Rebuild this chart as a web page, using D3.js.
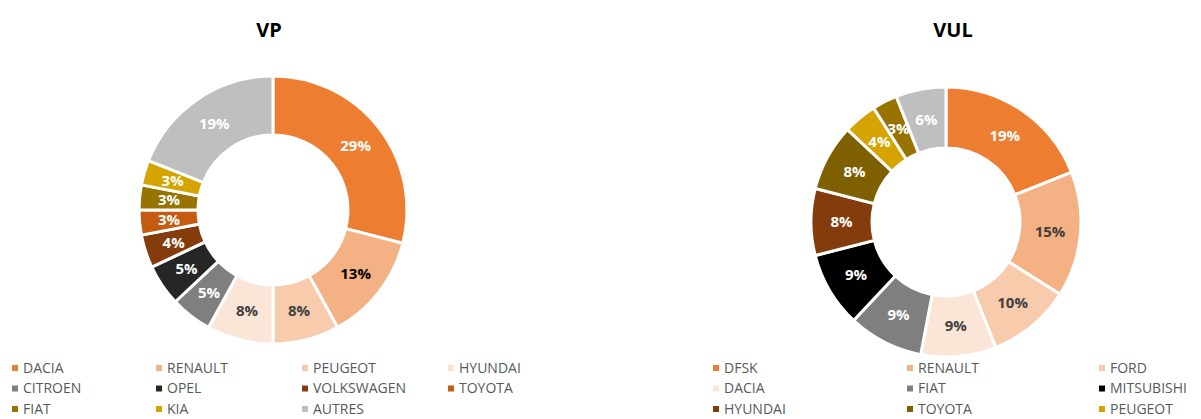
<!DOCTYPE html>
<html>
<head>
<meta charset="utf-8">
<script src="https://cdn.jsdelivr.net/npm/d3@7"></script>
<style>
  body { margin: 0; background: #fff; }
  text { font-family: "Open Sans", sans-serif; }
</style>
</head>
<body>
<div id="chart"></div>
<script>
// VP data
const vpLabels = ['DACIA', 'RENAULT', 'PEUGEOT', 'HYUNDAI', 'CITROEN', 'OPEL', 'VOLKSWAGEN', 'TOYOTA', 'FIAT', 'KIA', 'AUTRES'];
const vpValues = [29, 13, 8, 8, 5, 5, 4, 3, 3, 3, 19];
const vpColors = ['#ED7D31', '#F4B183', '#F8CBAD', '#FBE5D6', '#7F7F7F', '#262626', '#843C0C', '#C55A11', '#997300', '#D6A400', '#BFBFBF'];
const vpText = ['#fff', '#000', '#404040', '#404040', '#fff', '#fff', '#fff', '#fff', '#fff', '#fff', '#fff'];

// VUL data
const vulLabels = ['DFSK', 'RENAULT', 'FORD', 'DACIA', 'FIAT', 'MITSUBISHI', 'HYUNDAI', 'TOYOTA', 'PEUGEOT', 'OPEL', 'AUTRES'];
const vulValues = [19, 15, 10, 9, 9, 9, 8, 8, 4, 3, 6];
const vulColors = ['#ED7D31', '#F4B183', '#F8CBAD', '#FBE5D6', '#7F7F7F', '#000000', '#843C0C', '#7F6000', '#D6A400', '#997300', '#BFBFBF'];
const vulText = ['#fff', '#404040', '#404040', '#404040', '#fff', '#fff', '#fff', '#fff', '#fff', '#fff', '#fff'];

let width = 1201, height = 419;

let svg = d3.select('#chart')
            .append('svg')
            .attr('width', width)
            .attr('height', height);

function drawDonut(opts) {
    let data = opts.labels.map((l, i) => ({ label: l, value: opts.values[i], color: opts.colors[i], txt: opts.text[i] }));

    let pie = d3.pie().sort(null).value(d => d.value);
    let arc = d3.arc().innerRadius(opts.inner).outerRadius(opts.outer);
    let labelArc = d3.arc().innerRadius((opts.inner + opts.outer) / 2).outerRadius((opts.inner + opts.outer) / 2);

    // title
    svg.append('text')
       .attr('x', opts.titleX)
       .attr('y', 37)
       .attr('text-anchor', 'middle')
       .style('font-size', '20px')
       .style('font-weight', 'bold')
       .attr('fill', '#000')
       .text(opts.title);

    let g = svg.append('g').attr('transform', `translate(${opts.cx}, ${opts.cy})`);

    g.selectAll('path')
     .data(pie(data))
     .enter()
     .append('path')
     .attr('d', arc)
     .attr('fill', d => d.data.color)
     .attr('stroke', '#fff')
     .attr('stroke-width', 3);

    g.selectAll('.lbl')
     .data(pie(data))
     .enter()
     .append('text')
     .attr('class', 'lbl')
     .attr('transform', d => `translate(${labelArc.centroid(d)})`)
     .attr('text-anchor', 'middle')
     .attr('dy', '0.35em')
     .style('font-size', '15px')
     .style('font-weight', 'bold')
     .attr('fill', d => d.data.txt)
     .text(d => d.data.value + '%');

    // legend
    let legend = svg.selectAll('.leg-' + opts.title)
        .data(data)
        .enter()
        .append('g')
        .attr('transform', (d, i) => `translate(${opts.legX[i % opts.legX.length]}, ${368 + Math.floor(i / opts.legX.length) * 20.5})`);

    legend.append('rect')
          .attr('x', 0)
          .attr('y', -3)
          .attr('width', 6)
          .attr('height', 6)
          .attr('fill', d => d.color);

    legend.append('text')
          .attr('x', 11)
          .attr('y', 0)
          .attr('dy', '0.35em')
          .style('font-size', '14px')
          .attr('fill', '#595959')
          .text(d => d.label);
}

drawDonut({
    title: 'VP', titleX: 269, cx: 273, cy: 210, inner: 75, outer: 134,
    labels: vpLabels, values: vpValues, colors: vpColors, text: vpText,
    legX: [12, 156, 302, 448]
});

drawDonut({
    title: 'VUL', titleX: 953, cx: 946, cy: 222, inner: 74, outer: 135,
    labels: vulLabels, values: vulValues, colors: vulColors, text: vulText,
    legX: [713, 907, 1099]
});
</script>
</body>
</html>
